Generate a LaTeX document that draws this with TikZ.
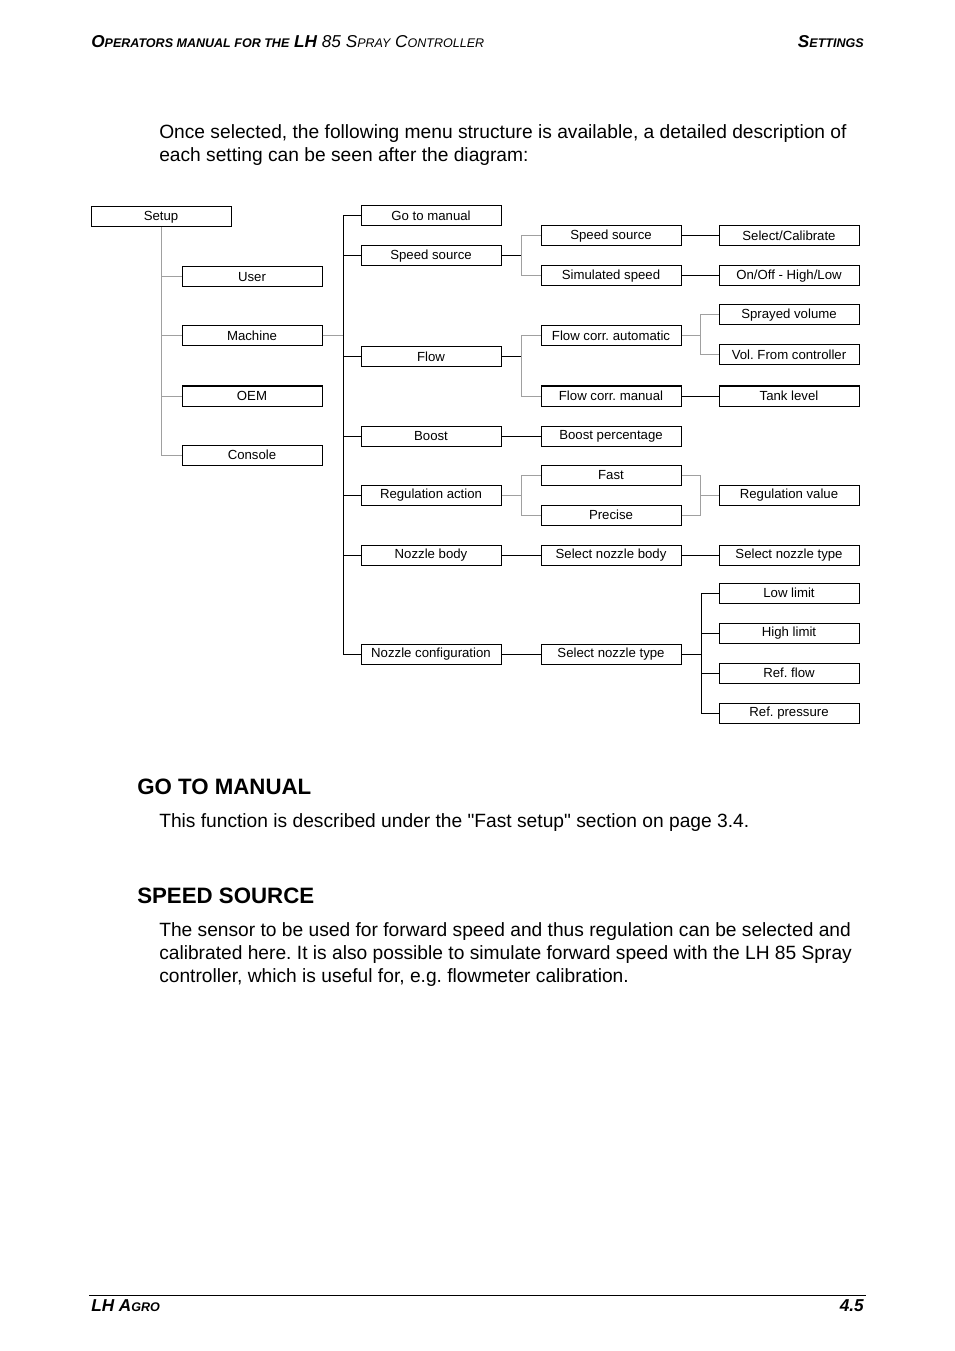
\documentclass[tikz,border=0pt]{standalone}
\usepackage{fontspec}
\setmainfont{Liberation Sans}
\usetikzlibrary{positioning}
\frenchspacing
\definecolor{lhgrey}{RGB}{160,160,160}
\definecolor{lhdark}{RGB}{0,0,0}
% large initial + small capitals, as in the page header
\newcommand{\lhsc}[2]{{\fontsize{12.9}{15}\selectfont #1}{\fontsize{9.4}{11}\selectfont #2}}

\begin{document}
\begin{tikzpicture}[
  x=0.75pt,y=-0.75pt,
  menubox/.style={draw=lhdark,line width=0.75pt,minimum width=105pt,minimum height=15pt,
     inner sep=0pt,font=\fontsize{9.9}{11}\selectfont},
  link/.style={line width=0.75pt,color=lhdark},
  glink/.style={line width=0.75pt,color=lhgrey},
  bodytext/.style={anchor=north west,inner sep=0pt,align=left,font=\fontsize{14.4}{17.25}\selectfont},
  heading/.style={anchor=base west,inner sep=0pt,font=\fontsize{16.7}{20}\selectfont\bfseries},
  pagemark/.style={inner sep=0pt,font=\fontsize{12.9}{15}\selectfont\bfseries\itshape}
]
\useasboundingbox (0,0) rectangle (954,1351);

% header and footer
\node[pagemark,anchor=base west] (hdr) at (91,48) {\lhsc{O}{PERATORS MANUAL FOR THE} LH \mdseries 85 \lhsc{S}{PRAY} \lhsc{C}{ONTROLLER}};
\node[pagemark,anchor=base east] (sect) at (864,48) {\lhsc{S}{ETTINGS}};
\draw[line width=0.75pt] (89,1295) -- (866,1295);
\node[pagemark,anchor=base west] (firm) at (91,1311) {\lhsc{LH A}{GRO}};
\node[pagemark,anchor=base east] (pageno) at (864,1311) {4.5};

% text
\node[bodytext] (intro) at (159,124) {Once selected, the following menu structure is available, a detailed description of\\each setting can be seen after the diagram:};
\node[heading] (hgoto) at (137,794) {GO TO MANUAL};
\node[bodytext] (pgoto) at (159,813) {This function is described under the \textquotedbl Fast setup\textquotedbl{} section on page 3.4.};
\node[heading] (hspeed) at (137,903) {SPEED SOURCE};
\node[bodytext] (pspeed) at (159,922) {The sensor to be used for forward speed and thus regulation can be selected and\\calibrated here. It is also possible to simulate forward speed with the LH 85 Spray\\controller, which is useful for, e.g. flowmeter calibration.};

% menu boxes
\node[menubox] (setup) at (161,217) {Setup};
\node[menubox] (user) at (252,277) {User};
\node[menubox] (machine) at (252,336) {Machine};
\node[menubox] (oem) at (252,396) {OEM};
\node[menubox] (console) at (252,455) {Console};

\node[menubox] (gotoman) at (431,216) {Go to manual};
\node[menubox] (speedsrc) at (431,256) {Speed source};
\node[menubox] (flow) at (431,357) {Flow};
\node[menubox] (boost) at (431,436) {Boost};
\node[menubox] (regact) at (431,495) {Regulation action};
\node[menubox] (nozbody) at (431,555) {Nozzle body};
\node[menubox] (nozconf) at (431,654) {Nozzle configuration};

\node[menubox] (speedsel) at (611,236) {Speed source};
\node[menubox] (simspeed) at (611,276) {Simulated speed};
\node[menubox] (flowauto) at (611,336) {Flow corr. automatic};
\node[menubox] (flowman) at (611,396) {Flow corr. manual};
\node[menubox] (boostpct) at (611,436) {Boost percentage};
\node[menubox] (fast) at (611,475) {Fast};
\node[menubox] (precise) at (611,515) {Precise};
\node[menubox] (selbody) at (611,555) {Select nozzle body};
\node[menubox] (seltype) at (611,654) {Select nozzle type};

\node[menubox] (selcal) at (789,236) {Select/Calibrate};
\node[menubox] (onoff) at (789,276) {On/Off - High/Low};
\node[menubox] (sprayvol) at (789,315) {Sprayed volume};
\node[menubox] (volctrl) at (789,355) {Vol. From controller};
\node[menubox] (tanklvl) at (789,396) {Tank level};
\node[menubox] (regval) at (789,495) {Regulation value};
\node[menubox] (nozztype) at (789,555) {Select nozzle type};
\node[menubox] (lowlim) at (789,593) {Low limit};
\node[menubox] (highlim) at (789,633) {High limit};
\node[menubox] (refflow) at (789,673) {Ref. flow};
\node[menubox] (refpress) at (789,713) {Ref. pressure};

% junctions
\coordinate (jmenu) at (343,216);
\coordinate (jspeed) at (521,256);
\coordinate (jflow) at (521,357);
\coordinate (jreg) at (521,495);
\coordinate (jauto) at (700,336);
\coordinate (jregval) at (700,495);
\coordinate (jtype) at (701,654);

% connectors
\foreach \n in {user,machine,oem,console}
  \draw[glink] (setup.south) |- (\n.west);
\draw[glink] (machine.east) -- (machine.east -| jmenu);
\draw[link] (gotoman.west) -- (jmenu) |- (nozconf.west);
\foreach \n in {speedsrc,flow,boost,regact,nozbody}
  \draw[link] (\n.west) -- (\n.west -| jmenu);

\draw[link] (speedsrc) -- (jspeed);
\draw[glink] (jspeed) |- (speedsel.west);
\draw[glink] (jspeed) |- (simspeed.west);
\draw[link] (flow) -- (jflow);
\draw[glink] (jflow) |- (flowauto.west);
\draw[glink] (jflow) |- (flowman.west);
\draw[glink] (regact) -- (jreg);
\draw[glink] (jreg) |- (fast.west);
\draw[glink] (jreg) |- (precise.west);
\draw[link] (boost) -- (boostpct);
\draw[link] (nozbody) -- (selbody);
\draw[link] (nozconf) -- (seltype);

\draw[link] (speedsel) -- (selcal);
\draw[link] (simspeed) -- (onoff);
\draw[glink] (flowauto) -- (jauto);
\draw[glink] (jauto) |- (sprayvol.west);
\draw[glink] (jauto) |- (volctrl.west);
\draw[link] (flowman) -- (tanklvl);
\draw[glink] (fast.east) -| (jregval);
\draw[glink] (precise.east) -| (jregval);
\draw[glink] (jregval) -- (regval);
\draw[link] (selbody) -- (nozztype);
\draw[link] (seltype) -- (jtype);
\foreach \n in {lowlim,highlim,refflow,refpress}
  \draw[link] (jtype) |- (\n.west);
\end{tikzpicture}
\end{document}
